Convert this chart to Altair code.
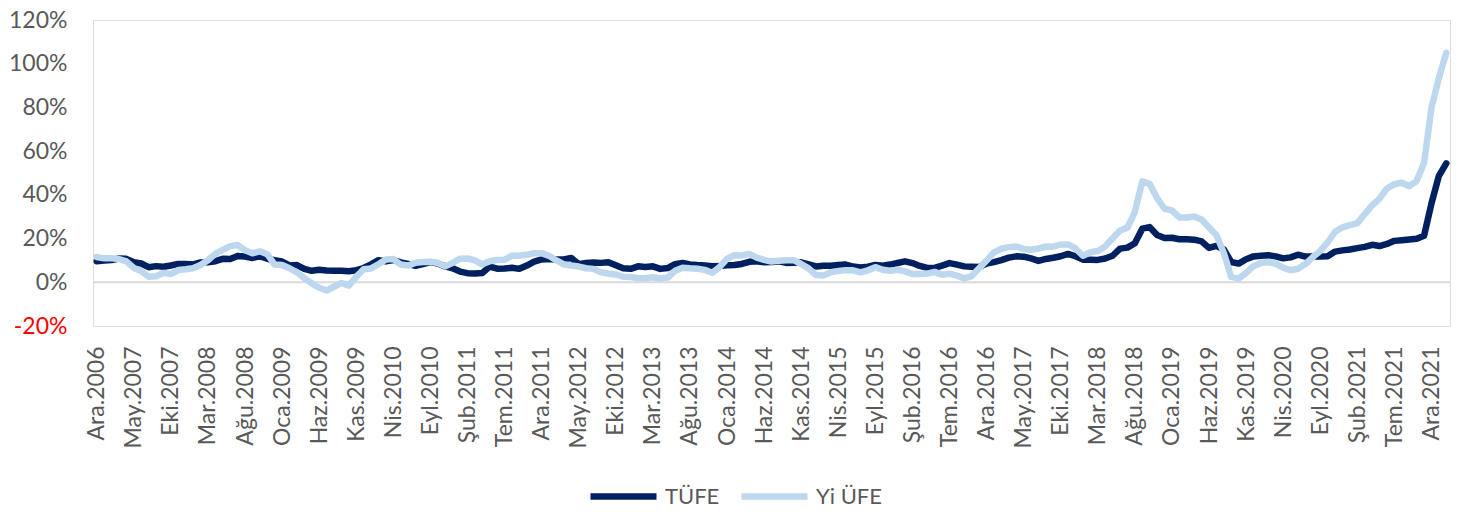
import altair as alt
import pandas as pd

# Turkish month abbreviations used on the category axis
month_names = ["Oca", "Şub", "Mar", "Nis", "May", "Haz", "Tem", "Ağu", "Eyl", "Eki", "Kas", "Ara"]
start_year = 2006
start_month = 12          # Aralık 2006
n_months = 183            # Ara.2006 ... Şub.2022

series_names = ["TÜFE", "Yi ÜFE"]

# Annual change, %  (TÜFE)
tufe = [
    9.65,
    9.93, 10.16, 10.86, 10.72, 9.23, 8.60, 6.90, 7.39, 7.12, 7.70, 8.40, 8.39,
    8.17, 9.10, 9.15, 9.66, 10.74, 10.61, 12.06, 11.77, 11.13, 11.99, 10.76, 10.06,
    9.50, 7.73, 7.89, 6.13, 5.24, 5.73, 5.39, 5.33, 5.27, 5.08, 5.53, 6.53,
    8.19, 10.13, 9.56, 10.19, 9.10, 8.37, 7.58, 8.33, 9.24, 8.62, 7.29, 6.40,
    4.90, 4.16, 3.99, 4.26, 7.17, 6.24, 6.31, 6.65, 6.15, 7.66, 9.48, 10.45,
    10.61, 10.43, 10.43, 11.14, 8.28, 8.87, 9.07, 8.88, 9.19, 7.80, 6.37, 6.16,
    7.31, 7.03, 7.29, 6.13, 6.51, 8.30, 8.88, 8.17, 7.88, 7.71, 7.32, 7.40,
    7.75, 7.89, 8.39, 9.38, 9.66, 9.16, 9.32, 9.54, 8.86, 8.96, 9.15, 8.17,
    7.24, 7.55, 7.61, 7.91, 8.09, 7.20, 6.81, 7.14, 7.95, 7.58, 8.10, 8.81,
    9.58, 8.78, 7.46, 6.57, 6.58, 7.64, 8.79, 8.05, 7.28, 7.16, 7.00, 8.53,
    9.22, 10.13, 11.29, 11.87, 11.72, 10.90, 9.79, 10.68, 11.20, 11.90, 12.98, 11.92,
    10.35, 10.26, 10.23, 10.85, 12.15, 15.39, 15.85, 17.90, 24.52, 25.24, 21.62, 20.30,
    20.35, 19.67, 19.71, 19.50, 18.71, 15.72, 16.65, 15.01, 9.26, 8.55, 10.56, 11.84,
    12.15, 12.37, 11.86, 10.94, 11.39, 12.62, 11.76, 11.77, 11.75, 11.89, 14.03, 14.60,
    14.97, 15.61, 16.19, 17.14, 16.59, 17.53, 18.95, 19.25, 19.58, 19.89, 21.31, 36.08,
    48.69, 54.44,
]

# Annual change, %  (Yi ÜFE)
yiufe = [
    11.58,
    10.94, 10.98, 10.66, 9.60, 6.56, 5.15, 2.54, 2.79, 4.31, 3.77, 5.59, 5.94,
    6.43, 7.93, 10.12, 13.00, 14.83, 16.53, 17.03, 14.67, 13.29, 14.18, 12.85, 8.11,
    7.90, 6.43, 4.57, 1.89, -0.49, -2.50, -3.75, -2.04, -0.30, -1.50, 2.50, 5.93,
    6.34, 8.24, 10.44, 10.63, 8.11, 7.64, 8.91, 9.25, 9.43, 8.85, 7.29, 8.87,
    10.80, 10.87, 10.02, 8.21, 9.63, 10.19, 10.34, 12.15, 12.15, 12.58, 13.27, 13.33,
    12.10, 10.00, 8.22, 7.65, 7.20, 6.44, 6.13, 4.56, 4.03, 3.60, 2.53, 2.45,
    1.88, 1.84, 2.30, 1.70, 2.17, 5.23, 6.61, 6.38, 6.23, 5.67, 4.32, 6.97,
    10.72, 12.40, 12.31, 12.98, 11.28, 10.25, 9.46, 9.88, 10.11, 10.10, 8.36, 6.36,
    3.28, 3.10, 4.57, 5.12, 5.56, 5.49, 4.50, 5.50, 6.92, 5.74, 5.25, 5.71,
    4.96, 3.80, 3.82, 3.98, 4.76, 3.41, 3.96, 3.03, 1.78, 2.84, 6.41, 9.94,
    13.69, 15.36, 16.09, 16.37, 15.26, 14.87, 15.45, 16.34, 16.28, 17.28, 17.30, 15.47,
    12.14, 13.71, 14.28, 16.37, 20.16, 23.71, 25.00, 32.13, 46.15, 45.01, 38.54, 33.64,
    32.93, 29.64, 29.64, 30.12, 28.71, 25.04, 21.66, 13.45, 2.45, 1.70, 4.26, 7.36,
    8.84, 9.26, 8.50, 6.71, 5.53, 6.17, 8.33, 11.53, 14.33, 18.20, 23.11, 25.15,
    26.16, 27.09, 31.20, 35.17, 38.33, 42.89, 44.92, 45.52, 43.96, 46.31, 54.62, 79.89,
    93.53, 105.01,
]

y_ticks = [-20, 0, 20, 40, 60, 80, 100, 120]

# category labels "Ara.2006", "Oca.2007", ...
periods = []
for i in range(n_months):
    m = (start_month - 1 + i) % 12
    y = start_year + (start_month - 1 + i) // 12
    periods.append(f"{month_names[m]}.{y}")
axis_labels = periods[::5]

rows = []
for name, vals in zip(series_names, [tufe, yiufe]):
    for p, v in zip(periods, vals):
        rows.append({"donem": p, "seri": name, "deger": v})
df = pd.DataFrame(rows)

FONT = "Lato"
GREY = "#595959"

y_scale = alt.Scale(domain=[-20, 120], nice=False, zero=False)
y_axis = alt.Axis(
    values=y_ticks, labelExpr="datum.value + '%'", title=None, domain=False,
    ticks=False, grid=False, labelPadding=26, labelFontSize=23, labelFont=FONT,
    labelColor={"condition": {"test": "datum.value < 0", "value": "#FF0000"}, "value": GREY},
)

zero_rule = alt.Chart(pd.DataFrame({"deger": [0]})).mark_rule(
    color="#D9D9D9", strokeWidth=2
).encode(y=alt.Y("deger:Q", scale=y_scale, axis=y_axis))

lines = alt.Chart(df).mark_line(
    strokeWidth=6.5, strokeJoin="round", strokeCap="round"
).encode(
    x=alt.X(
        "donem:O",
        sort=periods,
        scale=alt.Scale(type="point", padding=0.5),
        axis=alt.Axis(
            values=axis_labels, labelAngle=-90, title=None, domain=False, ticks=False,
            labelPadding=20, labelFontSize=23, labelColor=GREY, labelFont=FONT,
            labelOverlap=False, grid=False,
        ),
    ),
    y=alt.Y("deger:Q", scale=y_scale, axis=y_axis),
    color=alt.Color(
        "seri:N",
        sort=series_names,
        scale=alt.Scale(domain=series_names, range=["#002060", "#BDD7EE"]),
        legend=alt.Legend(
            title=None, orient="none", direction="horizontal", legendX=494, legendY=440,
            symbolType="stroke", symbolSize=4356, symbolStrokeWidth=6.5,
            labelFontSize=22, labelColor=GREY, labelFont=FONT, labelOffset=5,
            columnPadding=8, padding=0, gridAlign="none",
        ),
    ),
)

chart = alt.layer(zero_rule, lines).properties(
    width=1357, height=306,
    autosize=alt.AutoSizeParams(type="none"),
    padding={"left": 85, "top": 12, "right": 13, "bottom": 183},
).configure_view(strokeWidth=0).configure(font=FONT, background="white")

chart.save("out.html", embed_options={"renderer": "svg", "actions": False})
